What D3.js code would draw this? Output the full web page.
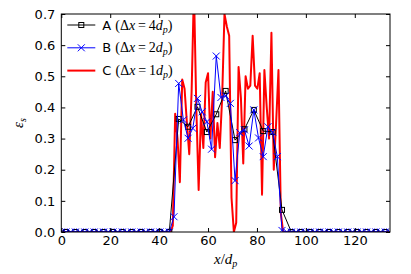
<!DOCTYPE html>
<html>
<head>
<meta charset="utf-8">
<script src="https://cdn.jsdelivr.net/npm/d3@7"></script>
<style>
  body { margin: 0; background: #fff; }
  text { font-family: "DejaVu Sans", sans-serif; }
  .math { font-family: "Liberation Serif", "DejaVu Serif", serif; }
</style>
</head>
<body>
<div id="chart"></div>
<script>
// grid spacing of each run (in x/d_p units) and first cell position
var aStart = 1.92, aStep = 3.84;
var bStart = 0, bStep = 1.92;
var cStart = 0.48, cStep = 0.96;

// A (dx = 4 dp)
var aValues = [
  0, 0, 0, 0, 0, 0, 0, 0, 0, 0, 0, 0,
  0.363, 0.338, 0.402, 0.321, 0.378, 0.453, 0.295, 0.330, 0.392, 0.324, 0.321, 0.071,
  0, 0, 0, 0, 0, 0, 0, 0, 0, 0, 0
];

// B (dx = 2 dp)
var bValues = [
  0, 0, 0, 0, 0, 0, 0, 0, 0, 0, 0, 0, 0, 0, 0, 0, 0, 0, 0, 0, 0, 0, 0, 0,
  0.049, 0.477, 0.360, 0.301, 0.333, 0.429, 0.386, 0.354, 0.266, 0.565, 0.432, 0.437,
  0.413, 0.165, 0.319, 0.328, 0.276, 0.392, 0.302, 0.242, 0.338, 0.320, 0.242, 0.005,
  0, 0, 0, 0, 0, 0, 0, 0, 0, 0, 0, 0, 0, 0, 0, 0, 0, 0, 0, 0, 0, 0, 0
];

// C (dx = 1 dp)
var cValues = [
  0, 0, 0, 0, 0, 0, 0, 0, 0, 0, 0, 0, 0, 0, 0, 0, 0, 0, 0, 0, 0, 0, 0, 0,
  0, 0, 0, 0, 0, 0, 0, 0, 0, 0, 0, 0, 0, 0, 0, 0, 0, 0, 0, 0, 0, 0, 0,
  0.02, 0.38, 0.30, 0.16, 0.49, 0.46, 0.35, 0.25, 0.45, 0.78, 0.40, 0.135,
  0.38, 0.27, 0.48, 0.51, 0.30, 0.45, 0.24, 0.35, 0.27, 0.43, 0.70, 0.66,
  0.63, 0.11, 0.0, 0.03, 0.53, 0.43, 0.22, 0.50, 0.46, 0.47, 0.63, 0.47,
  0.46, 0.51, 0.12, 0.52, 0.40, 0.30, 0.64, 0.20, 0.35, 0.52, 0.06,
  0, 0, 0, 0, 0, 0, 0, 0, 0, 0, 0, 0, 0, 0, 0, 0, 0, 0, 0, 0, 0, 0, 0,
  0, 0, 0, 0, 0, 0, 0, 0, 0, 0, 0, 0, 0, 0, 0, 0, 0, 0, 0, 0, 0, 0, 0
];

var xTicks = [0, 20, 40, 60, 80, 100, 120];
var yTicks = [0, 0.1, 0.2, 0.3, 0.4, 0.5, 0.6, 0.7];
var xMax = 134.4, yMax = 0.7;

// set the dimensions and margins of the graph
var margin = {top: 14, right: 21, bottom: 42, left: 61.3},
    width = 411 - margin.left - margin.right,
    height = 274 - margin.top - margin.bottom;

var svg = d3.select("#chart")
    .append("svg")
    .attr("width", 411)
    .attr("height", 274)
    .append("g")
    .attr("transform", `translate(${margin.left}, ${margin.top})`);

var x = d3.scaleLinear().domain([0, xMax]).range([0, width]);
var y = d3.scaleLinear().domain([0, yMax]).range([height, 0]);

// turn a value list into points on its grid
function toPoints(values, start, step) {
    return values.map(function (v, i) { return [start + i * step, v]; });
}
var aData = toPoints(aValues, aStart, aStep),
    bData = toPoints(bValues, bStart, bStep),
    cData = toPoints(cValues, cStart, cStep);

svg.append("clipPath").attr("id", "plotclip")
    .append("rect").attr("width", width).attr("height", height);

var line = d3.line()
    .x(function (d) { return x(d[0]); })
    .y(function (d) { return y(d[1]); });

var plot = svg.append("g").attr("clip-path", "url(#plotclip)");

// C drawn underneath
plot.append("path").datum(cData)
    .attr("fill", "none").attr("stroke", "#ff0000")
    .attr("stroke-width", 2).attr("stroke-linejoin", "round")
    .attr("d", line);

// A
plot.append("path").datum(aData)
    .attr("fill", "none").attr("stroke", "#000")
    .attr("stroke-width", 1)
    .attr("d", line);
plot.selectAll(".sq").data(aData).enter().append("rect")
    .attr("x", function (d) { return x(d[0]) - 2.5; })
    .attr("y", function (d) { return y(d[1]) - 2.5; })
    .attr("width", 5).attr("height", 5)
    .attr("fill", "none").attr("stroke", "#000").attr("stroke-width", 1);

// B
plot.append("path").datum(bData)
    .attr("fill", "none").attr("stroke", "#0000ff")
    .attr("stroke-width", 1)
    .attr("d", line);
function cross(g, cx, cy, r) {
    g.append("path")
        .attr("d", `M${cx - r},${cy - r}L${cx + r},${cy + r}M${cx - r},${cy + r}L${cx + r},${cy - r}`)
        .attr("stroke", "#0000ff").attr("stroke-width", 1).attr("fill", "none");
}
bData.forEach(function (d) { cross(plot, x(d[0]), y(d[1]), 3.5); });

// axes, ticks inside on all four sides
function styleAxis(g) {
    g.select(".domain").remove();
    g.selectAll(".tick line").attr("stroke", "#000");
    g.selectAll("text").attr("fill", "#000").style("font-size", "13px")
        .style("font-family", "DejaVu Sans");
}
svg.append("g").attr("transform", `translate(0, ${height})`)
    .call(d3.axisBottom(x).tickValues(xTicks).tickSize(-4).tickPadding(4).tickFormat(d3.format("d")))
    .call(styleAxis);
svg.append("g")
    .call(d3.axisTop(x).tickValues(xTicks).tickSize(-4).tickFormat(""))
    .call(styleAxis);
svg.append("g")
    .call(d3.axisLeft(y).tickValues(yTicks).tickSize(-4).tickPadding(6).tickFormat(d3.format(".1f")))
    .call(styleAxis);
svg.append("g").attr("transform", `translate(${width}, 0)`)
    .call(d3.axisRight(y).tickValues(yTicks).tickSize(-4).tickFormat(""))
    .call(styleAxis);

svg.append("rect").attr("width", width).attr("height", height)
    .attr("fill", "none").attr("stroke", "#000").attr("stroke-width", 1);

// axis labels
var xl = svg.append("text").attr("class", "math")
    .attr("x", width / 2).attr("y", height + 32)
    .attr("text-anchor", "middle").style("font-size", "15px");
xl.append("tspan").attr("font-style", "italic").text("x");
xl.append("tspan").text("/");
xl.append("tspan").attr("font-style", "italic").text("d");
xl.append("tspan").attr("font-style", "italic").attr("dy", 3).style("font-size", "10px").text("p");

var yl = svg.append("text").attr("class", "math")
    .attr("transform", `translate(${-38}, ${height / 2}) rotate(-90)`)
    .attr("text-anchor", "middle").style("font-size", "15px");
yl.append("tspan").attr("font-style", "italic").text("ε");
yl.append("tspan").attr("font-style", "italic").attr("dy", 3).style("font-size", "10px").text("s");

// legend
var legendRows = [
    {name: "A", dx: "4", color: "#000", width: 1, mark: "square"},
    {name: "B", dx: "2", color: "#0000ff", width: 1, mark: "cross"},
    {name: "C", dx: "1", color: "#ff0000", width: 2, mark: null}
];
legendRows.forEach(function (r, i) {
    var ly = 11 + i * 22.8;
    var g = svg.append("g");
    g.append("line").attr("x1", 6).attr("x2", 34).attr("y1", ly).attr("y2", ly)
        .attr("stroke", r.color).attr("stroke-width", r.width);
    if (r.mark === "square") {
        g.append("rect").attr("x", 20 - 2.5).attr("y", ly - 2.5).attr("width", 5).attr("height", 5)
            .attr("fill", "none").attr("stroke", "#000");
    } else if (r.mark === "cross") {
        cross(g, 20, ly, 3.5);
    }
    var t = g.append("text").attr("x", 41).attr("y", ly + 4.5).style("font-size", "13px");
    t.append("tspan").text(r.name + " ");
    var m = t.append("tspan").attr("class", "math").style("font-size", "14px");
    m.append("tspan").text("(Δ");
    m.append("tspan").attr("font-style", "italic").text("x");
    m.append("tspan").text("\u2009=\u2009" + r.dx);
    m.append("tspan").attr("font-style", "italic").text("d");
    m.append("tspan").attr("font-style", "italic").attr("dy", 3)
        .style("font-size", "10px").text("p");
    m.append("tspan").attr("dy", -3).text(")");
});
</script>
</body>
</html>
